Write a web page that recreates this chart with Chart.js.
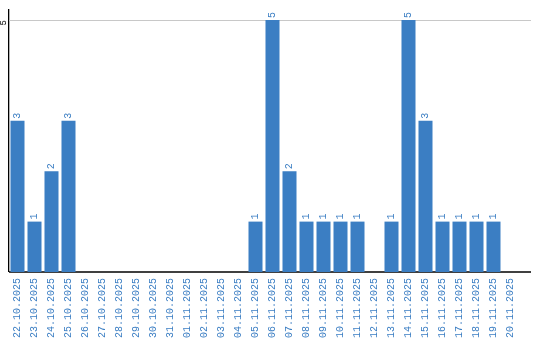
<!DOCTYPE html>
<html lang="en">
<head>
  <meta charset="UTF-8" />
  <title>Daily count</title>
  <script src="https://cdn.jsdelivr.net/npm/chart.js"></script>
  <style>
    html, body { margin: 0; padding: 0; background: #fff; }
    #wrap { width: 540px; height: 340px; }
  </style>
</head>
<body>
  <div id="wrap"><canvas id="chart"></canvas></div>

  <script>
    const days = [
      '22.10.2025', '23.10.2025', '24.10.2025', '25.10.2025', '26.10.2025',
      '27.10.2025', '28.10.2025', '29.10.2025', '30.10.2025', '31.10.2025',
      '01.11.2025', '02.11.2025', '03.11.2025', '04.11.2025', '05.11.2025',
      '06.11.2025', '07.11.2025', '08.11.2025', '09.11.2025', '10.11.2025',
      '11.11.2025', '12.11.2025', '13.11.2025', '14.11.2025', '15.11.2025',
      '16.11.2025', '17.11.2025', '18.11.2025', '19.11.2025', '20.11.2025'
    ];
    const counts = [3, 1, 2, 3, 0, 0, 0, 0, 0, 0, 0, 0, 0, 0, 1, 5, 2, 1, 1, 1, 1, 0, 1, 5, 3, 1, 1, 1, 1, 0];
    const yTicks = [5];

    const blue = '#3b7ec3';
    const mono = '"Liberation Mono", monospace';
    const overhang = 12; // axis and grid run a bit past the last day

    // grid line + x axis line, stretched slightly beyond the plot
    const axisLines = {
      id: 'axisLines',
      beforeDatasetsDraw(chart) {
        const { ctx, chartArea } = chart;
        const y = chart.scales.y;
        ctx.save();
        ctx.lineWidth = 1;
        ctx.strokeStyle = '#c8c8c8';
        yTicks.forEach(v => {
          const py = Math.round(y.getPixelForValue(v)) + 0.5;
          ctx.beginPath();
          ctx.moveTo(chartArea.left, py);
          ctx.lineTo(chartArea.right + overhang, py);
          ctx.stroke();
        });
        ctx.lineWidth = 1.3;
        ctx.strokeStyle = '#000';
        const py0 = y.getPixelForValue(0);
        ctx.beginPath();
        ctx.moveTo(chartArea.left, py0);
        ctx.lineTo(chartArea.right + overhang, py0);
        ctx.stroke();
        ctx.restore();
      }
    };

    // values written sideways over each bar, and the sideways y tick
    const sideLabels = {
      id: 'sideLabels',
      afterDatasetsDraw(chart) {
        const ctx = chart.ctx;
        const meta = chart.getDatasetMeta(0);
        ctx.save();
        ctx.font = '10px ' + mono;
        ctx.fillStyle = blue;
        ctx.textAlign = 'left';
        ctx.textBaseline = 'middle';
        meta.data.forEach((bar, i) => {
          if (!counts[i]) return;
          ctx.save();
          ctx.translate(bar.x, bar.y - 2);
          ctx.rotate(-Math.PI / 2);
          ctx.fillText(String(counts[i]), 0, 0);
          ctx.restore();
        });
        const y = chart.scales.y;
        ctx.fillStyle = '#000';
        ctx.font = '9px ' + mono;
        ctx.textAlign = 'right';
        yTicks.forEach(v => {
          ctx.save();
          ctx.translate(4, y.getPixelForValue(v));
          ctx.rotate(-Math.PI / 2);
          ctx.fillText(String(v), 0, 0);
          ctx.restore();
        });
        ctx.restore();
      }
    };

    new Chart(document.getElementById('chart'), {
      type: 'bar',
      data: {
        labels: days,
        datasets: [{
          data: counts,
          backgroundColor: blue,
          barPercentage: 0.824,
          categoryPercentage: 1
        }]
      },
      options: {
        responsive: true,
        maintainAspectRatio: false,
        animation: false,
        layout: { padding: { left: 9, right: 21, top: 10, bottom: -4 } },
        plugins: { legend: { display: false }, tooltip: { enabled: false } },
        scales: {
          x: {
            grid: { display: false, drawTicks: false },
            border: { display: false },
            ticks: {
              color: blue,
              font: { size: 10, family: mono },
              minRotation: 90,
              maxRotation: 90,
              padding: 6,
              autoSkip: false
            }
          },
          y: {
            min: 0,
            max: 5.2,
            afterBuildTicks: scale => { scale.ticks = yTicks.map(v => ({ value: v })); },
            grid: { display: false, drawTicks: false },
            border: { display: true, color: '#000', width: 1.3 },
            ticks: { display: false }
          }
        }
      },
      plugins: [axisLines, sideLabels]
    });
  </script>
</body>
</html>
